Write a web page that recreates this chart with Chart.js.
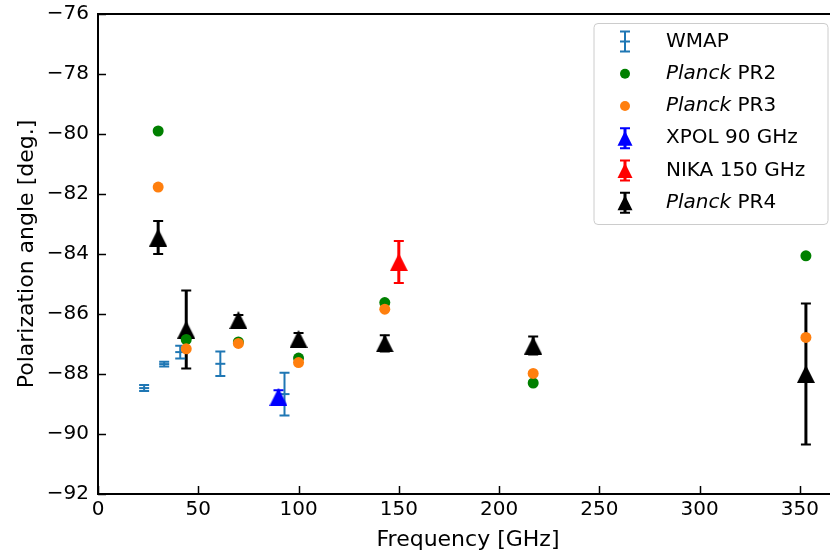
<!DOCTYPE html>
<html><head><meta charset="utf-8">
<script src="https://cdn.jsdelivr.net/npm/chart.js@4/dist/chart.umd.min.js"></script>
<style>html,body{margin:0;padding:0;background:#fff;overflow:hidden}#wrap{width:830px;height:554px;position:relative;overflow:hidden}canvas{display:block}</style>
</head><body><div id="wrap"><canvas id="c" width="846" height="554"></canvas></div>
<script>
// ---- data ----
const wmapFreq  = [23, 33, 41, 61, 93];
const wmapAngle = [-88.47, -87.67, -87.27, -87.66, -88.67];
const wmapErr   = [0.1, 0.08, 0.21, 0.41, 0.71];

const pr2Freq  = [30, 44, 70, 100, 143, 217, 353];
const pr2Angle = [-79.9, -86.85, -86.93, -87.47, -85.62, -88.3, -84.06];

const pr3Freq  = [30, 44, 70, 100, 143, 217, 353];
const pr3Angle = [-81.77, -87.16, -86.98, -87.62, -85.84, -87.98, -86.78];

const xpolFreq  = [90];
const xpolAngle = [-88.76];
const xpolErr   = [0.22];

const nikaFreq  = [150];
const nikaAngle = [-84.27];
const nikaErr   = [0.7];

const pr4Freq  = [30, 44, 70, 100, 143, 217, 353];
const pr4Angle = [-83.45, -86.52, -86.2, -86.83, -86.98, -87.05, -88.0];
const pr4Err   = [0.55, 1.3, 0.17, 0.2, 0.27, 0.3, 2.35];

const xTicks = [0, 50, 100, 150, 200, 250, 300, 350];
const yTicks = [-92, -90, -88, -86, -84, -82, -80, -78, -76];

const legendLabels = [
  {italic: '', normal: 'WMAP'},
  {italic: 'Planck', normal: ' PR2'},
  {italic: 'Planck', normal: ' PR3'},
  {italic: '', normal: 'XPOL 90 GHz'},
  {italic: '', normal: 'NIKA 150 GHz'},
  {italic: 'Planck', normal: ' PR4'}
];

const FONT = "'DejaVu Sans'";
const pts = (xs, ys) => xs.map((x, i) => ({x: x, y: ys[i]}));

function makeTri(color, size) {
  const c = document.createElement('canvas');
  c.width = size; c.height = size;
  const g = c.getContext('2d');
  g.fillStyle = color;
  g.beginPath();
  g.moveTo(size / 2, 0);
  g.lineTo(size, size);
  g.lineTo(0, size);
  g.closePath();
  g.fill();
  return c;
}

const errPlugin = {
  id: 'errbars',
  beforeDatasetDraw(chart, args) {
    const ds = chart.data.datasets[args.index];
    if (!ds.errors) return;
    const ctx = chart.ctx, xs = chart.scales.x, ys = chart.scales.y;
    ctx.save();
    ctx.strokeStyle = ds.errColor;
    ds.data.forEach((p, i) => {
      const e = ds.errors[i];
      const px = xs.getPixelForValue(p.x);
      const y1 = ys.getPixelForValue(p.y + e), y2 = ys.getPixelForValue(p.y - e);
      ctx.lineWidth = ds.errWidth;
      ctx.beginPath(); ctx.moveTo(px, y1); ctx.lineTo(px, y2); ctx.stroke();
      ctx.lineWidth = 2;
      ctx.beginPath();
      ctx.moveTo(px - ds.capHalf, y1); ctx.lineTo(px + ds.capHalf, y1);
      ctx.moveTo(px - ds.capHalf, y2); ctx.lineTo(px + ds.capHalf, y2);
      ctx.stroke();
    });
    ctx.restore();
  }
};

const framePlugin = {
  id: 'frame',
  afterDraw(chart) {
    const ctx = chart.ctx, a = chart.chartArea, xs = chart.scales.x, ys = chart.scales.y;
    ctx.save();
    ctx.strokeStyle = '#000';
    ctx.lineWidth = 2;
    ctx.beginPath(); ctx.moveTo(a.left - 1, a.top); ctx.lineTo(a.right + 1, a.top); ctx.lineTo(a.right + 1, a.bottom); ctx.stroke();
    ctx.lineWidth = 1.5;
    ctx.beginPath();
    xs.ticks.forEach((t, i) => {
      const px = Math.round(xs.getPixelForTick(i)) + 0.5;
      ctx.moveTo(px, a.bottom); ctx.lineTo(px, a.bottom - 8);
    });
    ys.ticks.forEach((t, i) => {
      const py = Math.round(ys.getPixelForTick(i)) + 0.5;
      ctx.moveTo(a.left, py); ctx.lineTo(a.left + 8, py);
    });
    ctx.stroke();

    // legend
    const bx = 594, by = 23.5, bw = 234, bh = 201, r = 4;
    ctx.fillStyle = 'rgba(255,255,255,0.8)';
    ctx.strokeStyle = '#cccccc';
    ctx.lineWidth = 1;
    ctx.beginPath();
    ctx.moveTo(bx + r, by); ctx.lineTo(bx + bw - r, by); ctx.arcTo(bx + bw, by, bx + bw, by + r, r);
    ctx.lineTo(bx + bw, by + bh - r); ctx.arcTo(bx + bw, by + bh, bx + bw - r, by + bh, r);
    ctx.lineTo(bx + r, by + bh); ctx.arcTo(bx, by + bh, bx, by + bh - r, r);
    ctx.lineTo(bx, by + r); ctx.arcTo(bx, by, bx + r, by, r);
    ctx.closePath(); ctx.fill(); ctx.stroke();

    const mx = 625, tx = 666, y0 = 41.5, step = 32.25;
    chart.data.datasets.forEach((ds, i) => {
      const y = y0 + i * step;
      const col = ds.legendColor;
      ctx.strokeStyle = col; ctx.fillStyle = col;
      if (ds.errors) {
        ctx.lineWidth = ds.errWidth;
        ctx.beginPath(); ctx.moveTo(mx, y - 10); ctx.lineTo(mx, y + 10); ctx.stroke();
        ctx.lineWidth = 2;
        ctx.beginPath();
        ctx.moveTo(mx - 5, y - 10); ctx.lineTo(mx + 5, y - 10);
        ctx.moveTo(mx - 5, y + 10); ctx.lineTo(mx + 5, y + 10);
        ctx.stroke();
      }
      if (ds.pointStyle === 'line') {
        ctx.lineWidth = 2;
        ctx.beginPath(); ctx.moveTo(mx - 5, y); ctx.lineTo(mx + 5, y); ctx.stroke();
      } else if (ds.pointStyle === 'circle') {
        ctx.beginPath(); ctx.arc(mx, y, 5, 0, Math.PI * 2); ctx.fill();
      } else {
        const s = 15;
        ctx.beginPath(); ctx.moveTo(mx, y - s / 2); ctx.lineTo(mx + s / 2, y + s / 2); ctx.lineTo(mx - s / 2, y + s / 2); ctx.closePath(); ctx.fill();
      }
      const lab = legendLabels[i];
      ctx.fillStyle = '#000';
      ctx.textBaseline = 'middle';
      ctx.textAlign = 'left';
      let x = tx;
      if (lab.italic) {
        ctx.font = 'italic 20px ' + FONT;
        ctx.fillText(lab.italic, x, y);
        x += ctx.measureText(lab.italic).width;
      }
      ctx.font = '20px ' + FONT;
      ctx.fillText(lab.normal, x, y);
    });
    ctx.restore();
  }
};

const triSize = 18;
const data = {
  datasets: [
    {label: 'WMAP', data: pts(wmapFreq, wmapAngle), errors: wmapErr, errColor: '#1f77b4', errWidth: 2, capHalf: 5,
     pointStyle: 'line', pointRadius: 5, borderColor: '#1f77b4', backgroundColor: '#1f77b4', borderWidth: 2, legendColor: '#1f77b4', order: 5},
    {label: 'Planck PR2', data: pts(pr2Freq, pr2Angle), pointStyle: 'circle', pointRadius: 5.5, borderWidth: 0,
     backgroundColor: 'green', borderColor: 'green', legendColor: 'green', order: 2},
    {label: 'Planck PR3', data: pts(pr3Freq, pr3Angle), pointStyle: 'circle', pointRadius: 5.5, borderWidth: 0,
     backgroundColor: '#ff7f0e', borderColor: '#ff7f0e', legendColor: '#ff7f0e', order: 1},
    {label: 'XPOL 90 GHz', data: pts(xpolFreq, xpolAngle), errors: xpolErr, errColor: 'blue', errWidth: 3, capHalf: 5,
     pointStyle: makeTri('blue', triSize), borderWidth: 0, legendColor: 'blue', order: 4},
    {label: 'NIKA 150 GHz', data: pts(nikaFreq, nikaAngle), errors: nikaErr, errColor: 'red', errWidth: 3, capHalf: 5,
     pointStyle: makeTri('red', triSize), borderWidth: 0, legendColor: 'red', order: 3},
    {label: 'Planck PR4', data: pts(pr4Freq, pr4Angle), errors: pr4Err, errColor: 'black', errWidth: 3, capHalf: 5,
     pointStyle: makeTri('black', triSize), borderWidth: 0, legendColor: 'black', order: 10}
  ]
};

const minus = v => String(v).replace('-', '\u2212');

new Chart(document.getElementById('c'), {
  type: 'scatter',
  data: data,
  options: {
    responsive: false,
    animation: false,
    devicePixelRatio: 1,
    layout: {padding: {top: 14, right: 8, left: 0, bottom: 0}},
    plugins: {legend: {display: false}, tooltip: {enabled: false}},
    scales: {
      x: {
        type: 'linear', min: 0, max: 369,
        afterFit: s => { s.height = 60; s.paddingLeft = 0; s.paddingRight = 0; },
        afterBuildTicks: s => { s.ticks = xTicks.map(v => ({value: v})); },
        ticks: {stepSize: 50, includeBounds: false, font: {family: FONT, size: 20}, color: '#000', padding: 4, maxRotation: 0, callback: minus},
        grid: {display: false, drawTicks: false, tickLength: 0},
        border: {display: true, color: '#000', width: 2},
        title: {display: true, text: 'Frequency [GHz]', font: {family: FONT, size: 22}, color: '#000', padding: {top: 0, bottom: 1}}
      },
      y: {
        type: 'linear', min: -92, max: -76,
        afterFit: s => { s.width = 98; s.paddingTop = 0; s.paddingBottom = 0; },
        afterBuildTicks: s => { s.ticks = yTicks.map(v => ({value: v})); },
        ticks: {stepSize: 2, font: {family: FONT, size: 20}, color: '#000', padding: 9, callback: minus},
        grid: {display: false, drawTicks: false, tickLength: 0},
        border: {display: true, color: '#000', width: 2},
        title: {display: true, text: 'Polarization angle [deg.]', font: {family: FONT, size: 22}, color: '#000', padding: {top: 14, bottom: 0}}
      }
    }
  },
  plugins: [errPlugin, framePlugin]
});
</script>
</body></html>
